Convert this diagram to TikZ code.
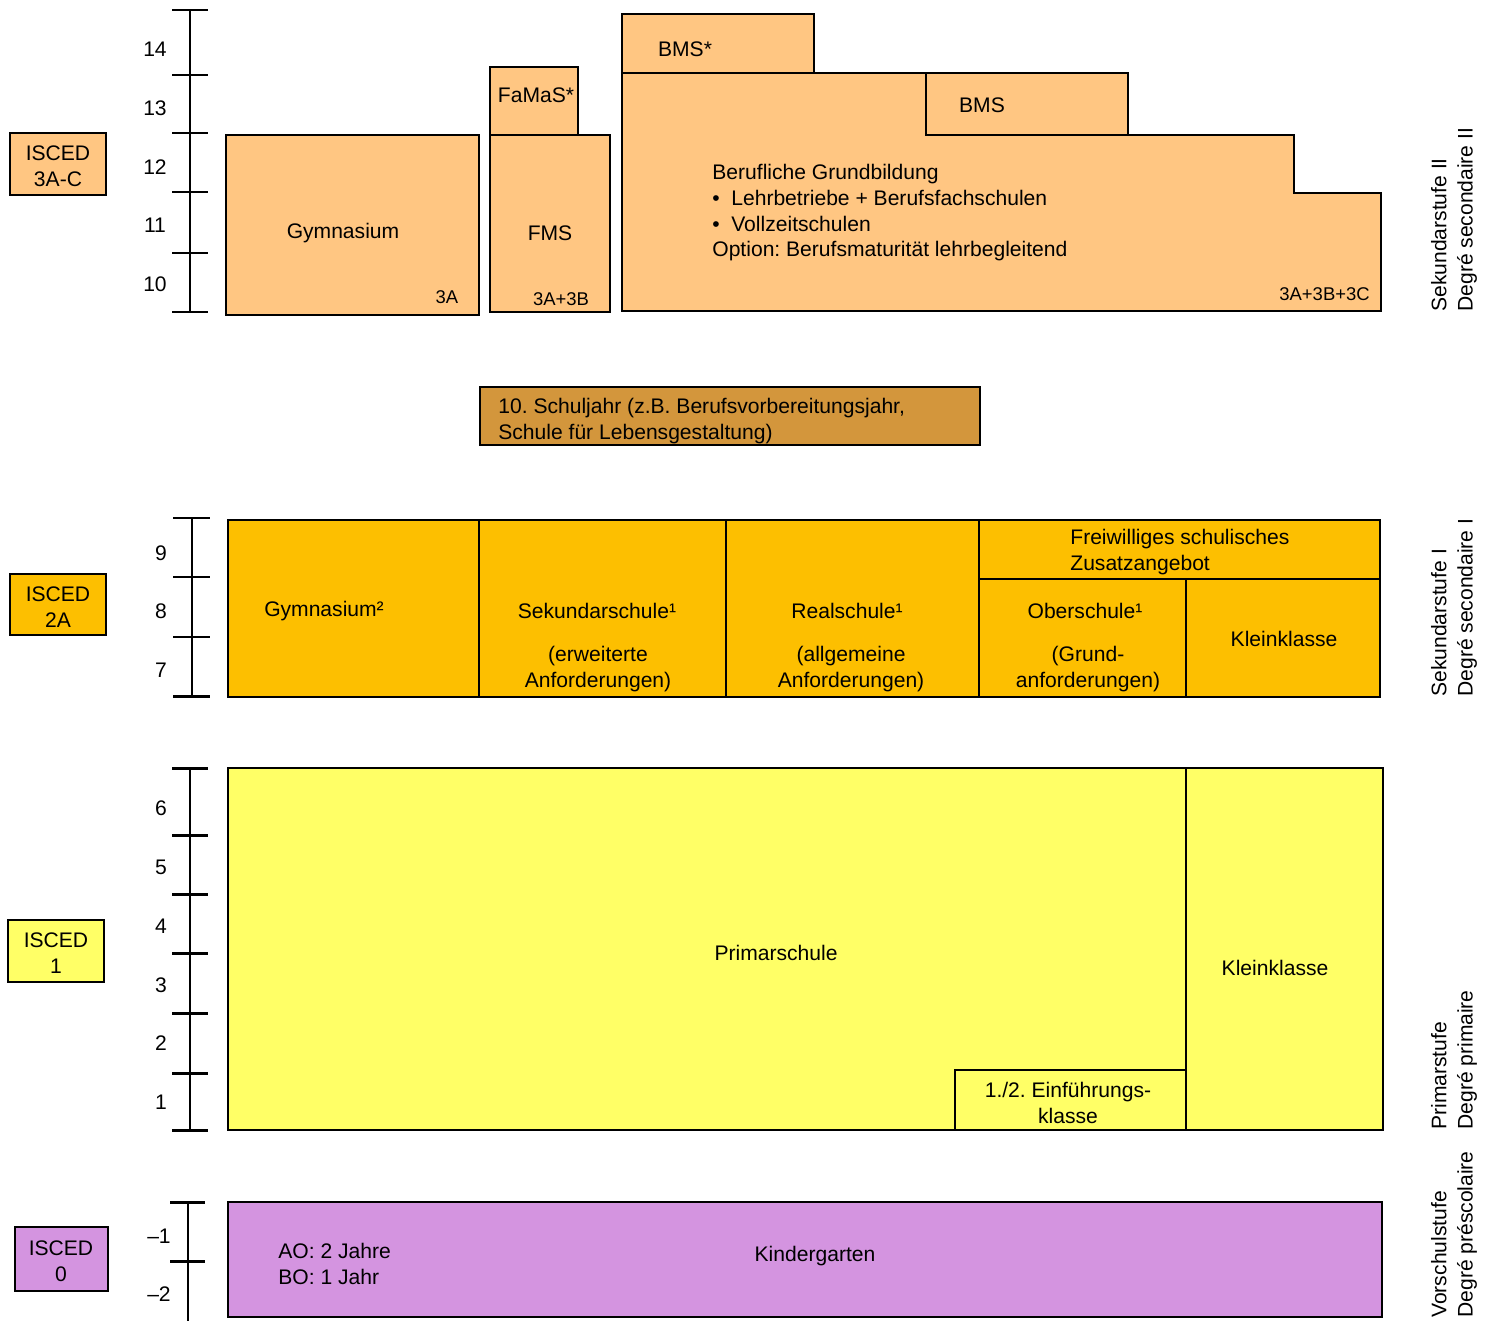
\documentclass[tikz,border=0pt]{standalone}
\usepackage{fontspec}
\setmainfont{Liberation Sans}
\frenchspacing
\definecolor{sekzwei}{HTML}{FFC682}
\definecolor{zehnjahr}{HTML}{D3963C}
\definecolor{sekeins}{HTML}{FDBF00}
\definecolor{primar}{HTML}{FFFF66}
\definecolor{vorschul}{HTML}{D494E0}
\tikzset{
  schulbox/.style={draw=black,line width=1.5pt},
  trenn/.style={draw=black,line width=1.1pt},
  achse/.style={line width=1.7pt},
  txt/.style={inner sep=0pt,align=center,yshift=-1.1pt,font=\fontsize{12}{14.6}\selectfont},
  klein/.style={inner sep=0pt,font=\fontsize{10.5}{12}\selectfont},
  stufe/.style={rotate=90,anchor=west,align=left,inner sep=0pt,font=\fontsize{12}{15}\selectfont},
}
\begin{document}
\begin{tikzpicture}[x=0.02cm,y=-0.02cm]
    \useasboundingbox (0,0) rectangle (1490,1321);

    % Sekundarstufe II
    \draw[achse] (190,10) -- (190,312);
    \foreach \y in {10,75,133,192,253,312}
        \draw[achse] (172,\y) -- (208,\y);
    \foreach \y/\n in {47/14,106/13,165/12,223/11,282/10}
        \node[txt] (j\n) at (155,\y) {\n};
    \draw[schulbox,fill=sekzwei] (10,133) rectangle (106,195);
    \node[txt] (isceddrei) at (58,164) {ISCED\\3A-C};

    \draw[schulbox,fill=sekzwei] (226,135) rectangle (479,315);
    \node[txt] (gymzwei) at (343,231) {Gymnasium};
    \node[klein] (gymzweigrad) at (447,297) {3A};
    \draw[schulbox,fill=sekzwei] (490,67) rectangle (578,135);
    \node[txt] (famas) at (536,93) {FaMaS*};
    \draw[schulbox,fill=sekzwei] (490,135) rectangle (610,312);
    \node[txt] (fms) at (550,231) {FMS};
    \node[klein] (fmsgrad) at (561,299) {3A+3B};

    \draw[schulbox,fill=sekzwei] (622,73) -- (1128,73) -- (1128,135) -- (1294,135) -- (1294,193) -- (1381,193) -- (1381,311) -- (622,311) -- cycle;
    \draw[schulbox,fill=sekzwei] (622,14) rectangle (814,73);
    \node[txt] (bmsstern) at (685,47) {BMS*};
    \draw[schulbox,fill=sekzwei] (926,73) rectangle (1128,135);
    \node[txt] (bms) at (982,103) {BMS};
    \node[txt,align=left,anchor=west] (grundbildung) at (712,211) {Berufliche Grundbildung\\
        \textbullet\hspace{0.55em}Lehrbetriebe + Berufsfachschulen\\
        \textbullet\hspace{0.55em}Vollzeitschulen\\
        Option: Berufsmaturität lehrbegleitend};
    \node[klein,anchor=east] (grundgrad) at (1370,294) {3A+3B+3C};
    \node[stufe] (stufezwei) at (1454,312) {Sekundarstufe II\\Degré secondaire II};

    % 10. Schuljahr
    \draw[schulbox,fill=zehnjahr] (480,387) rectangle (980,445);
    \node[txt,align=left,anchor=west] (zehntes) at (498,419) {10. Schuljahr (z.B. Berufsvorbereitungsjahr,\\Schule für Lebensgestaltung)};

    % Sekundarstufe I
    \draw[achse] (192,518) -- (192,696);
    \foreach \y in {518,577,637,696}
        \draw[achse] (173,\y) -- (210,\y);
    \foreach \y/\n in {551/9,609/8,668/7}
        \node[txt] (j\n) at (161,\y) {\n};
    \draw[schulbox,fill=sekeins] (10,574) rectangle (106,635);
    \node[txt] (isced2) at (58,605) {ISCED\\2A};

    \draw[schulbox,fill=sekeins] (228,520) rectangle (1380,697);
    \draw[trenn] (479,520) -- (479,697);
    \draw[trenn] (726,520) -- (726,697);
    \draw[trenn] (979,520) -- (979,697);
    \draw[trenn] (979,579) -- (1380,579);
    \draw[trenn] (1186,579) -- (1186,697);
    \node[txt] (gymeins) at (324,609) {Gymnasium²};
    \node[txt] (sekschule) at (597,609) {Sekundarschule¹};
    \node[txt] (sekanf) at (598,667) {(erweiterte\\Anforderungen)};
    \node[txt] (realschule) at (847,609) {Realschule¹};
    \node[txt] (realanf) at (851,667) {(allgemeine\\Anforderungen)};
    \node[txt,align=left,anchor=west] (zusatz) at (1070,550) {Freiwilliges schulisches\\Zusatzangebot};
    \node[txt] (oberschule) at (1085,609) {Oberschule¹};
    \node[txt] (oberanf) at (1088,667) {(Grund-\\anforderungen)};
    \node[txt] (kleinsek) at (1284,637) {Kleinklasse};
    \node[stufe] (stufeeins) at (1454,697) {Sekundarstufe I\\Degré secondaire I};

    % Primarstufe
    \draw[achse] (190,768) -- (190,1130);
    \foreach \y in {768,835,894,953,1013,1073,1130}
        \draw[achse] (172,\y) -- (208,\y);
    \foreach \y/\n in {806/6,865/5,924/4,983/3,1041/2,1100/1}
        \node[txt] (j\n) at (161,\y) {\n};
    \draw[schulbox,fill=primar] (8,920) rectangle (104,982);
    \node[txt] (isced1) at (56,951) {ISCED\\1};

    \draw[schulbox,fill=primar] (228,768) rectangle (1383,1130);
    \draw[trenn] (1186,768) -- (1186,1130);
    \draw[trenn] (955,1130) -- (955,1070) -- (1186,1070);
    \node[txt] (primarschule) at (776,951) {Primarschule};
    \node[txt] (kleinprim) at (1275,966) {Kleinklasse};
    \node[txt] (einfuehrung) at (1068,1101) {1./2. Einführungs-\\klasse};
    \node[stufe] (stufeprim) at (1454,1130) {Primarstufe\\Degré primaire};

    % Vorschulstufe
    \draw[achse] (188,1202) -- (188,1321);
    \foreach \y in {1202,1261}
        \draw[achse] (170,\y) -- (205,\y);
    \node[txt] (jm1) at (159,1234) {–1};
    \node[txt] (jm2) at (159,1292) {–2};
    \draw[schulbox,fill=vorschul] (15,1227) rectangle (108,1291);
    \node[txt] (isced0) at (61,1259) {ISCED\\0};

    \draw[schulbox,fill=vorschul] (228,1202) rectangle (1382,1317);
    \node[txt] (kindergarten) at (815,1254) {Kindergarten};
    \node[txt,align=left,anchor=west] (dauer) at (278,1262) {AO: 2 Jahre\\BO: 1 Jahr};
    \node[stufe] (stufevor) at (1454,1318) {Vorschulstufe\\Degré préscolaire};
\end{tikzpicture}
\end{document}
